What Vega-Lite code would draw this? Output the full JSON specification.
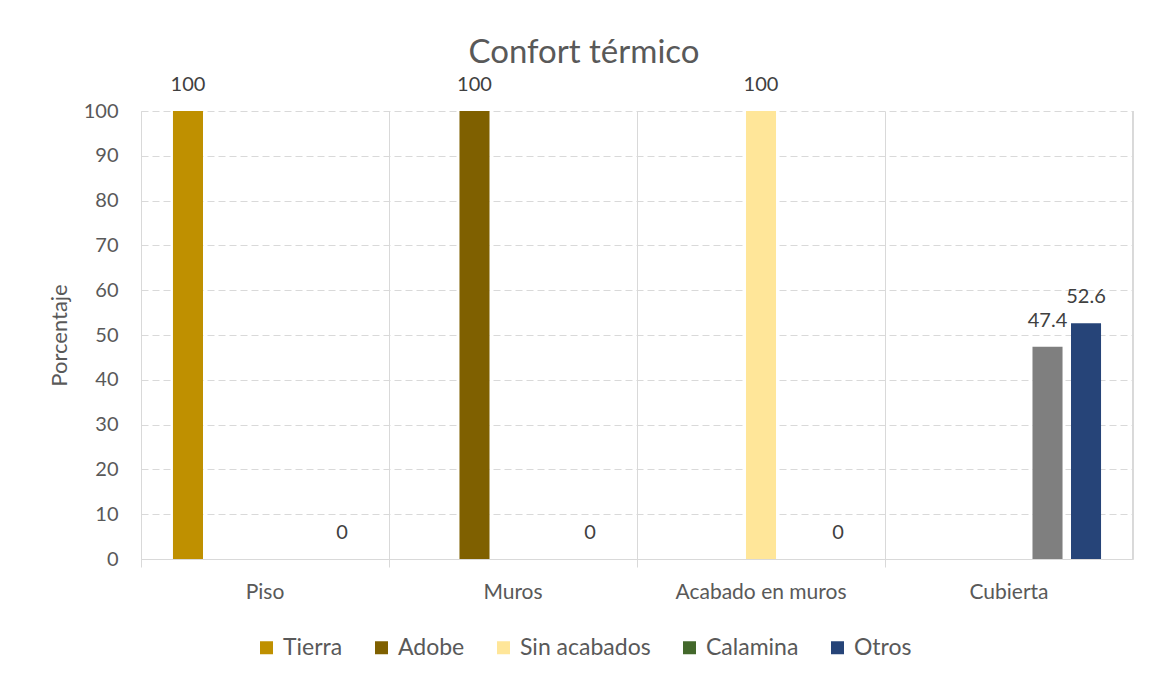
{
  "$schema": "https://vega.github.io/schema/vega-lite/v6.json",
  "autosize": {"type": "none"},
  "padding": {"left": 141, "top": 111, "right": 18, "bottom": 121},
  "width": 992,
  "height": 448,
  "background": "white",
  "config": {
    "font": "Lato",
    "view": {"stroke": null},
    "axis": {"labelFont": "Lato", "titleFont": "Lato", "labelColor": "#595959", "titleColor": "#595959"},
    "legend": {"labelFont": "Lato"}
  },
  "title": {
    "text": "Confort térmico",
    "fontSize": 33,
    "fontWeight": "normal",
    "color": "#595959",
    "font": "Lato",
    "anchor": "middle",
    "dx": -53,
    "offset": 5
  },
  "data": {
    "values": [
      {"categoria": "Piso", "material": "Tierra", "valor": 100},
      {"categoria": "Piso", "material": "Otros", "valor": 0},
      {"categoria": "Muros", "material": "Adobe", "valor": 100},
      {"categoria": "Muros", "material": "Otros", "valor": 0},
      {"categoria": "Acabado en muros", "material": "Sin acabados", "valor": 100},
      {"categoria": "Acabado en muros", "material": "Otros", "valor": 0},
      {"categoria": "Cubierta", "material": "Calamina", "valor": 47.4},
      {"categoria": "Cubierta", "material": "Otros", "valor": 52.6}
    ]
  },
  "encoding": {
    "x": {
      "field": "categoria",
      "type": "nominal",
      "sort": ["Piso", "Muros", "Acabado en muros", "Cubierta"],
      "scale": {"paddingInner": 0, "paddingOuter": 0},
      "axis": {
        "title": null,
        "labelAngle": 0,
        "labelFontSize": 21,
        "bandPosition": 0,
        "domainColor": "#d9d9d9",
        "tickColor": "#d9d9d9",
        "tickSize": 8,
        "labelPadding": 14,
        "grid": true,
        "gridColor": "#d9d9d9",
        "gridDash": []
      }
    },
    "xOffset": {
      "field": "material",
      "type": "nominal",
      "scale": {
        "domain": ["Tierra", "Adobe", "Sin acabados", "Calamina", "Otros"],
        "paddingInner": 0.22,
        "paddingOuter": 0.83
      }
    },
    "y": {
      "field": "valor",
      "type": "quantitative",
      "scale": {"domain": [0, 100], "nice": false},
      "axis": {
        "title": "Porcentaje",
        "titleFontSize": 22,
        "titleFontWeight": "normal",
        "titlePadding": 12,
        "values": [0, 10, 20, 30, 40, 50, 60, 70, 80, 90, 100],
        "labelFontSize": 20,
        "labelPadding": 23,
        "ticks": false,
        "tickSize": 0,
        "domainColor": "#d9d9d9",
        "gridColor": "#d9d9d9",
        "gridDash": [7, 4]
      }
    }
  },
  "layer": [
    {
      "mark": {"type": "bar"},
      "encoding": {
        "color": {
          "condition": {"test": "datum.categoria === 'Cubierta' && datum.material === 'Calamina'", "value": "#7F7F7F"},
          "field": "material",
          "type": "nominal",
          "scale": {
            "domain": ["Tierra", "Adobe", "Sin acabados", "Calamina", "Otros"],
            "range": ["#BF9000", "#7F6000", "#FFE699", "#43682B", "#264478"]
          },
          "legend": {
            "title": null,
            "orient": "none",
            "direction": "horizontal",
            "legendX": 114,
            "legendY": 525,
            "symbolType": "square",
            "symbolSize": 169,
            "symbolStrokeWidth": 0,
            "labelFontSize": 23,
            "labelColor": "#595959",
            "labelOffset": 5,
            "columnPadding": 27
          }
        }
      }
    },
    {
      "mark": {"type": "text", "baseline": "middle", "dy": -26, "fontSize": 20, "color": "#404040"},
      "encoding": {
        "text": {"field": "valor", "type": "quantitative"}
      }
    },
    {
      "mark": {"type": "rule", "color": "#d9d9d9"},
      "encoding": {
        "x": {"datum": "Cubierta", "bandPosition": 1},
        "xOffset": null,
        "y": {"datum": 0},
        "y2": {"datum": 100}
      }
    }
  ]
}
